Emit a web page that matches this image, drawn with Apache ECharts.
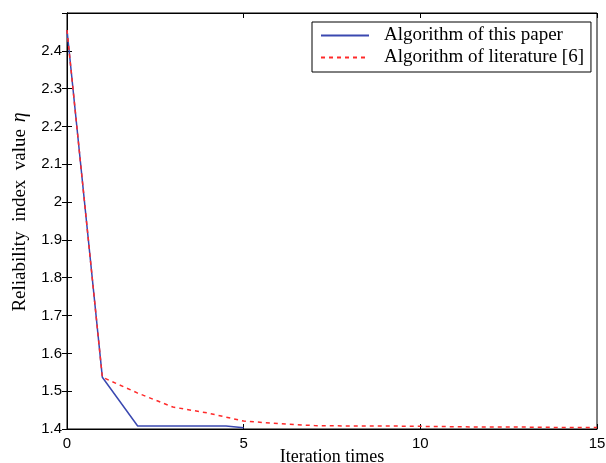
<!DOCTYPE html>
<html>
<head>
<meta charset="utf-8">
<script src="https://cdn.jsdelivr.net/npm/echarts@6/dist/echarts.min.js"></script>
<style>
  html, body { margin: 0; padding: 0; background: #fff; }
  #main { width: 606px; height: 463px; }
</style>
</head>
<body>
<div id="main"></div>
<script>
// Values
var seriesNames = ['Algorithm of this paper', 'Algorithm of literature [6]'];
var paperIter = [0, 1, 2, 4.5, 5];
var paperVals = [2.455, 1.537, 1.408, 1.408, 1.403];
var litIter = [0, 1, 2, 3, 4, 5, 6, 7, 8, 9, 10, 11, 12, 13, 14, 15];
var litVals = [2.455, 1.537, 1.495, 1.458, 1.442, 1.421, 1.414, 1.409, 1.408, 1.408, 1.407, 1.406, 1.405, 1.405, 1.404, 1.404];
var xTicks = [0, 5, 10, 15];

function pairs(xs, ys) {
  return xs.map(function (x, i) { return [x, ys[i]]; });
}

var chart = echarts.init(document.getElementById('main'));

var tickIn = { show: true, inside: true, length: 5, lineStyle: { color: '#000' } };

chart.setOption({
  animation: false,
  grid: {
    left: 67, right: 9, top: 13, bottom: 34,
    outerBoundsMode: 'none',
    show: true, borderColor: '#000', borderWidth: 1
  },
  legend: {
    left: 312, top: 22,
    orient: 'vertical',
    itemWidth: 48, itemHeight: 10, itemGap: 3,
    padding: [4, 7, 5, 8],
    borderColor: '#000', borderWidth: 1,
    backgroundColor: '#fff',
    itemStyle: { opacity: 0 },
    textStyle: { fontFamily: 'Liberation Serif', fontSize: 19, lineHeight: 19, color: '#000', padding: [0, 0, 0, 10] },
    data: seriesNames
  },
  xAxis: [{
    type: 'value', min: 0, max: 15, interval: 5,
    name: 'Iteration times', nameLocation: 'middle', nameGap: 19,
    nameMoveOverlap: false,
    nameTextStyle: { fontFamily: 'Liberation Serif', fontSize: 18, color: '#000' },
    axisLine: { show: true, lineStyle: { color: '#000' } },
    axisTick: tickIn,
    splitLine: { show: false },
    axisLabel: {
      margin: 7, fontFamily: 'Liberation Sans', fontSize: 15, color: '#000',
      formatter: function (v) { return xTicks.indexOf(v) >= 0 ? String(v) : ''; }
    }
  }, {
    type: 'value', min: 0, max: 15, interval: 5, position: 'top',
    axisLine: { show: true, lineStyle: { color: '#000' } },
    axisTick: tickIn, axisLabel: { show: false }, splitLine: { show: false }
  }],
  yAxis: [{
    type: 'value', min: 1.4, max: 2.5, interval: 0.1,
    name: '{t|Reliability  index  value}  {e|η}',
    nameLocation: 'middle', nameGap: 34, nameRotate: 90,
    nameTextStyle: {
      padding: [0, 0, 0, 18],
      rich: {
        t: { fontFamily: 'Liberation Serif', fontSize: 19, color: '#000' },
        e: { fontFamily: 'Liberation Serif', fontSize: 20, fontStyle: 'italic', color: '#000' }
      }
    },
    axisLine: { show: true, lineStyle: { color: '#000' } },
    axisTick: tickIn,
    splitLine: { show: false },
    axisLabel: {
      margin: 5, fontFamily: 'Liberation Sans', fontSize: 15, color: '#000',
      formatter: function (v) {
        if (v > 2.45) return '';
        return String(Math.round(v * 10) / 10);
      }
    }
  }, {
    type: 'value', min: 1.4, max: 2.5, interval: 0.1, position: 'right',
    axisLine: { show: true, lineStyle: { color: '#000' } },
    axisTick: tickIn, axisLabel: { show: false }, splitLine: { show: false }
  }],
  series: [{
    name: seriesNames[0], type: 'line', symbol: 'none',
    data: pairs(paperIter, paperVals),
    lineStyle: { color: '#3a48b0', width: 1.5 },
    itemStyle: { color: '#3a48b0' },
    z: 2
  }, {
    name: seriesNames[1], type: 'line', symbol: 'none',
    data: pairs(litIter, litVals),
    lineStyle: { color: '#ff2a2a', width: 1.5, type: [4, 4] },
    itemStyle: { color: '#ff2a2a' },
    z: 3
  }]
});

window.addEventListener('resize', function () {
  chart.resize();
});
</script>
</body>
</html>
